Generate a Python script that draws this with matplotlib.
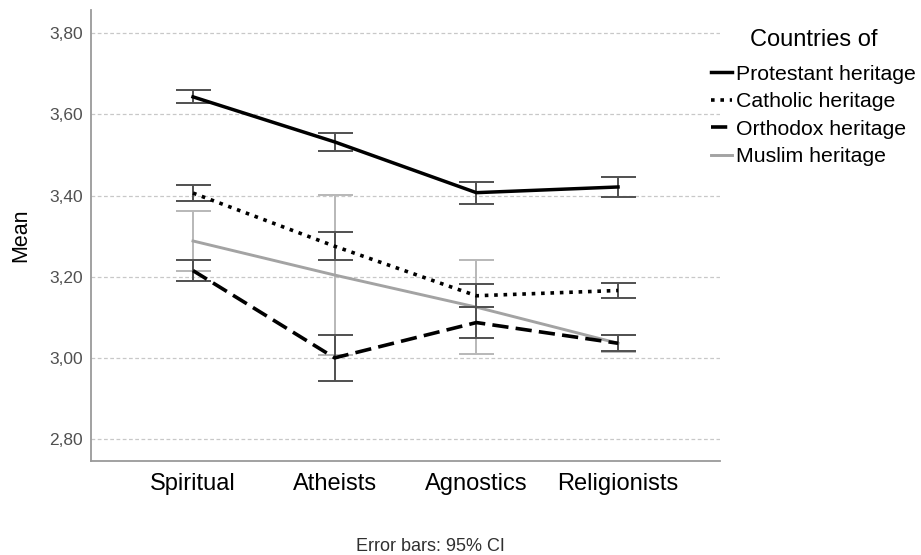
import matplotlib
matplotlib.use("Agg")
import matplotlib.pyplot as plt
from matplotlib.ticker import FuncFormatter

plt.rcParams['font.family'] = ['Liberation Sans', 'DejaVu Sans']

categories = ['Spiritual', 'Atheists', 'Agnostics', 'Religionists']

protestant = [3.643, 3.532, 3.407, 3.421]
protestant_ci = [0.016, 0.023, 0.027, 0.025]

catholic = [3.406, 3.275, 3.153, 3.166]
catholic_ci = [0.020, 0.034, 0.028, 0.019]

orthodox = [3.215, 3.000, 3.087, 3.036]
orthodox_ci = [0.025, 0.056, 0.038, 0.020]

muslim = [3.288, 3.204, 3.125, 3.036]
muslim_ci = [0.075, 0.197, 0.116, 0.021]

y_ticks = [2.8, 3.0, 3.2, 3.4, 3.6, 3.8]

fig = plt.figure(figsize=(9.21, 5.55), dpi=100)
ax = fig.add_axes([0.0988, 0.1694, 0.683, 0.8126])

x = list(range(len(categories)))

dark_err = '#505050'
light_err = '#b8b8b8'
muslim_col = '#a3a3a3'

series = [
    ('Protestant heritage', protestant, protestant_ci, 'black', '-', 2.5, dark_err, 4),
    ('Catholic heritage', catholic, catholic_ci, 'black', (0, (1, 1.6)), 2.6, dark_err, 4),
    ('Orthodox heritage', orthodox, orthodox_ci, 'black', (0, (4.5, 2.0)), 2.6, dark_err, 4),
    ('Muslim heritage', muslim, muslim_ci, muslim_col, '-', 2.1, light_err, 2),
]

handles = []
for label, vals, ci, col, ls, lw, ecol, z in series:
    ax.errorbar(x, vals, yerr=ci, fmt='none', ecolor=ecol, elinewidth=1.4,
                capsize=12.6, capthick=1.4, zorder=z)
    ln, = ax.plot(x, vals, color=col, linestyle=ls, linewidth=lw, zorder=z + 1,
                  label=label)
    handles.append(ln)

ax.set_xlim(-0.72, 3.72)
ax.set_ylim(2.746, 3.857)
ax.set_yticks(y_ticks)
ax.yaxis.set_major_formatter(FuncFormatter(lambda v, p: f'{v:.2f}'.replace('.', ',')))
ax.set_xticks(x)
ax.set_xticklabels(categories, fontsize=17, color='black')
ax.tick_params(axis='y', length=0, labelsize=12.5, labelcolor='#505050', pad=6)
ax.tick_params(axis='x', length=0, pad=8.5)

ax.grid(axis='y', linestyle=(0, (3, 2)), color='#c8c8c8', linewidth=0.9)
ax.set_axisbelow(True)
for s in ['top', 'right']:
    ax.spines[s].set_visible(False)
for s in ['left', 'bottom']:
    ax.spines[s].set_color('#9a9a9a')
    ax.spines[s].set_linewidth(1.3)

ax.set_ylabel('Mean', fontsize=15.5, labelpad=13)

leg = ax.legend(handles=handles, title='Countries of', loc='upper left',
                bbox_to_anchor=(0.985, 0.958), frameon=False, fontsize=15.3,
                title_fontsize=17, handlelength=1.0, handletextpad=0.2,
                labelspacing=0.40, borderaxespad=0, borderpad=0)
leg._legend_box.sep = 10

fig.text(0.467, 0.016, 'Error bars: 95% CI', ha='center', va='center',
         fontsize=13, color='#303030')

fig.savefig('out.png', dpi=100)
